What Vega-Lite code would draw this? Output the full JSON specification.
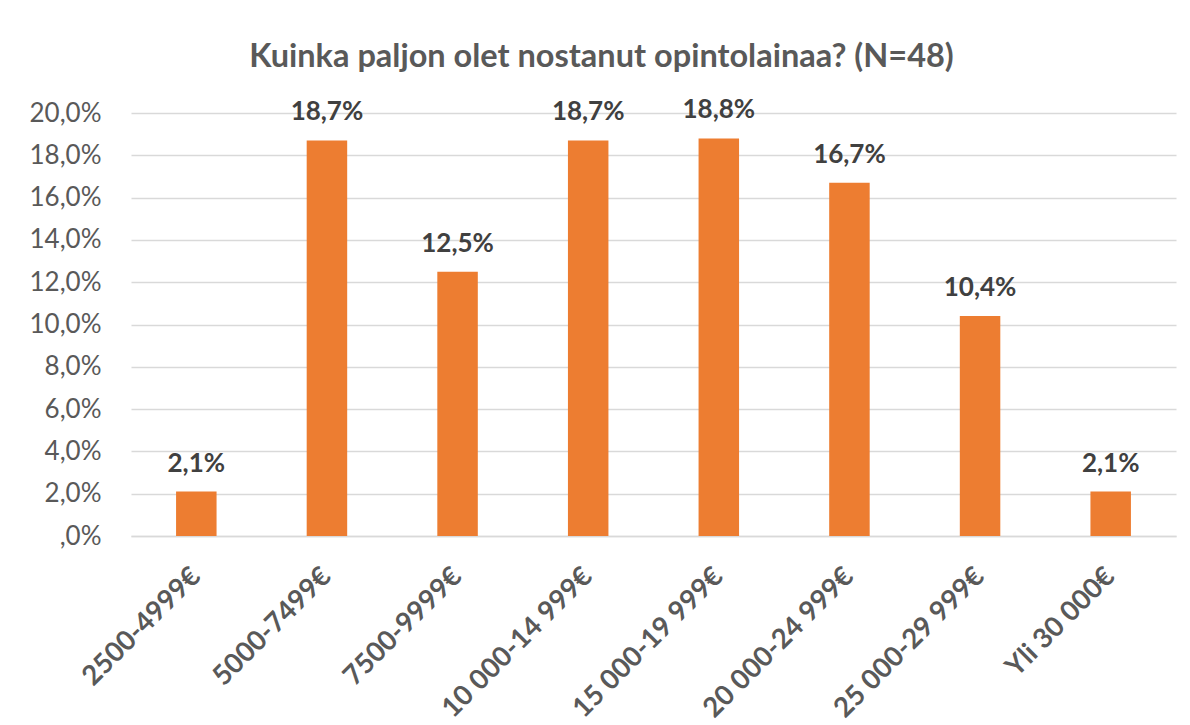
{
  "$schema": "https://vega.github.io/schema/vega-lite/v6.json",
  "autosize": {"type": "none"},
  "width": 1045,
  "height": 423,
  "padding": {"left": 131, "top": 113, "right": 14, "bottom": 189},
  "background": "white",
  "title": {
    "text": "Kuinka paljon olet nostanut opintolainaa? (N=48)",
    "font": "Lato",
    "fontSize": 32.5,
    "fontWeight": "bold",
    "color": "#595959",
    "anchor": "middle",
    "dx": -52,
    "offset": 24
  },
  "data": {
    "values": [
      {"luokka": "2500-4999€", "osuus": 0.021},
      {"luokka": "5000-7499€", "osuus": 0.187},
      {"luokka": "7500-9999€", "osuus": 0.125},
      {"luokka": "10 000-14 999€", "osuus": 0.187},
      {"luokka": "15 000-19 999€", "osuus": 0.188},
      {"luokka": "20 000-24 999€", "osuus": 0.167},
      {"luokka": "25 000-29 999€", "osuus": 0.104},
      {"luokka": "Yli 30 000€", "osuus": 0.021}
    ]
  },
  "encoding": {
    "x": {
      "field": "luokka",
      "type": "nominal",
      "sort": null,
      "scale": {"paddingInner": 0.69, "paddingOuter": 0.345},
      "axis": {
        "title": null,
        "labelAngle": -45,
        "labelAlign": "right",
        "labelBaseline": "middle",
        "labelFont": "Lato",
        "labelFontSize": 27.5,
        "labelFontWeight": "bold",
        "labelColor": "#595959",
        "labelPadding": 36,
        "labelLimit": 0,
        "ticks": false,
        "domainColor": "#D9D9D9",
        "domainWidth": 1.5
      }
    },
    "y": {
      "field": "osuus",
      "type": "quantitative",
      "scale": {"domain": [0, 0.2], "nice": false},
      "axis": {
        "title": null,
        "values": [0, 0.02, 0.04, 0.06, 0.08, 0.1, 0.12, 0.14, 0.16, 0.18, 0.2],
        "labelExpr": "datum.value == 0 ? ',0%' : format(datum.value, '.1%')",
        "labelFont": "Lato",
        "labelFontSize": 26,
        "labelColor": "#595959",
        "labelPadding": 30,
        "ticks": false,
        "domain": false,
        "gridColor": "#D9D9D9",
        "gridWidth": 1.5
      }
    }
  },
  "layer": [
    {"mark": {"type": "bar", "color": "#ED7D31"}},
    {
      "mark": {
        "type": "text",
        "baseline": "alphabetic",
        "dy": -20,
        "font": "Lato",
        "fontSize": 26,
        "fontWeight": "bold",
        "color": "#404040"
      },
      "encoding": {
        "text": {"field": "osuus", "type": "quantitative", "format": ".1%"}
      }
    }
  ],
  "config": {
    "view": {"stroke": null},
    "locale": {
      "number": {
        "decimal": ",",
        "thousands": " ",
        "grouping": [3],
        "currency": ["", " €"]
      }
    }
  }
}
